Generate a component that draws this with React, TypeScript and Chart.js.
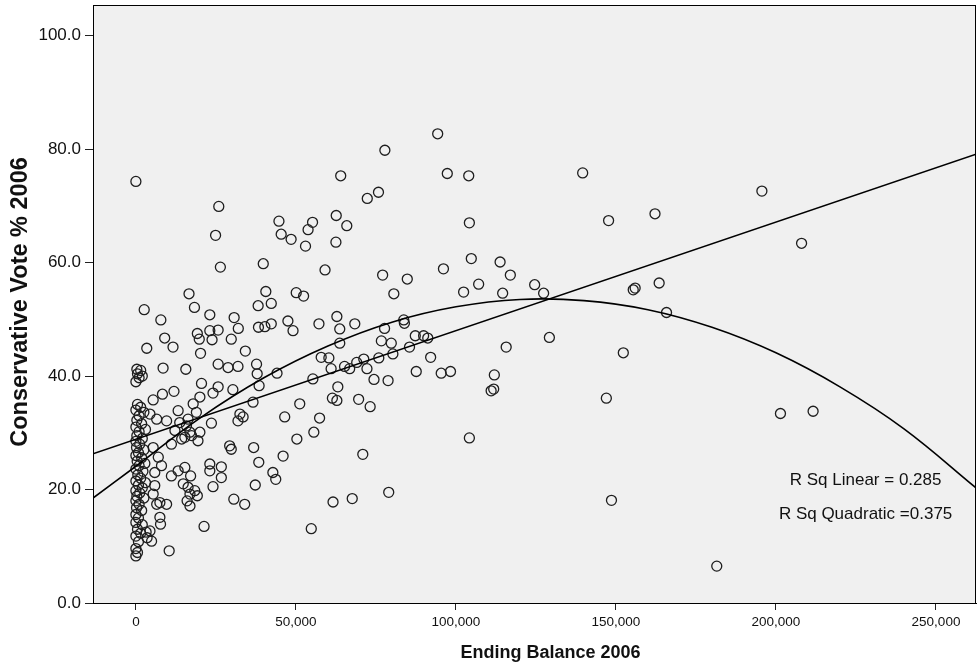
import React, { useEffect, useRef } from "react";
import { Chart, registerables } from "chart.js";

Chart.register(...registerables);

// Ending Balance 2006 (x) and Conservative Vote % 2006 (y)
const balance = [
  0, 94300, 77800, 97300, 104000, 64000, 75800, 72300, 139600, 195600,
  147700, 162200, 208000, 25900, 24900, 26400, 104200, 44700, 55200, 53800,
  62600, 65900, 45400, 48500, 53000, 62500, 39800, 59100, 77100, 84800,
  96100, 104800, 113800, 117000, 107100, 102400, 114600, 124600, 127400, 80600,
  40600, 50100, 52400, 38200, 42300, 156000, 155400, 163500, 165800, 16600,
  18300, 2600, 7800, 23100, 30700, 32000, 19200, 23100, 25700, 9000,
  19800, 23800, 29800, 11600, 3400, 20200, 34200, 38300, 40300, 42300,
  47500, 49100, 57200, 62800, 63700, 68400, 77700, 83700, 83900, 87300,
  89900, 91200, 76700, 79800, 80300, 63700, 85500, 37700, 37900, 44100,
  38500, 57900, 60300, 61000, 55300, 65200, 66800, 69000, 71200, 72200,
  75900, 74400, 78800, 87600, 36600, 63100, 61400, 62800, 69600, 73200,
  51200, 46500, 57400, 55600, 50300, 36800, 38400, 46000, 70900, 42800,
  43700, 37300, 61600, 67600, 79000, 54800, 92100, 95400, 98300, 115700,
  129200, 112000, 111000, 111800, 104200, 152300, 147000, 201400, 211600, 148600,
  181500,
  8500, 15600, 20500, 5400, 8300, 11900, 4400, 6500, 9600, 13200,
  13700, 16300, 17900, 18900, 12200, 14300, 11100, 17400, 5400, 7000,
  8000, 5900, 11100, 13200, 15300, 17100, 14800, 16300, 16900, 18400,
  16000, 16900, 5900, 5400, 6500, 7500, 9600, 7500, 7700, 4400,
  4900, 10400, 25700, 28800, 31900, 25700, 24100, 30300, 20000, 23600,
  32500, 33500, 31900, 15800, 16900, 15300, 20000, 19400, 29300, 29800,
  23100, 26700, 23100, 26700, 24100, 19200, 30600, 34000, 21300,
  300, 1500, 500, 1000, 0, 2000, 500, 1500, 0, 2500,
  1000, 300, 1800, 0, 3000, 1000, 300, 2000, 0, 1200,
  200, 2500, 800, 0, 1800, 400, 2800, 1000, 0, 2200,
  600, 1500, 0, 3000, 800, 2000, 0, 1200, 300, 2500,
  0, 1000, 200, 1800, 0, 800, 0, 2000, 500, 1500,
  0, 800, 0, 500, 0, 3500, 3200,
];

const vote = [
  74.3, 82.7, 79.8, 75.7, 75.3, 75.3, 72.4, 71.3, 75.8, 72.6,
  67.4, 68.6, 63.4, 69.9, 64.8, 59.2, 67, 67.3, 67.1, 65.8,
  68.3, 66.5, 65, 64.1, 62.9, 63.6, 59.8, 58.7, 57.8, 57.1,
  58.9, 60.7, 60.1, 57.8, 56.2, 54.8, 54.6, 56.1, 54.6, 54.5,
  54.9, 54.7, 54.1, 52.4, 52.8, 55.5, 55.2, 56.4, 51.2, 54.5,
  52.1, 51.7, 49.9, 50.8, 50.3, 48.4, 47.5, 48, 48.1, 46.7,
  46.5, 46.4, 46.5, 45.1, 44.9, 44, 44.4, 48.6, 48.7, 49.2,
  49.7, 48, 49.2, 50.5, 48.3, 49.2, 48.4, 49.9, 49.3, 47.1,
  47.1, 46.7, 46.2, 45.8, 43.9, 45.8, 45.1, 42.1, 40.4, 40.5,
  38.3, 43.3, 43.2, 41.3, 39.5, 41.7, 41.3, 42.4, 43, 41.3,
  43.2, 39.4, 39.2, 40.8, 35.4, 38.1, 36.1, 35.7, 35.9, 34.6,
  35.1, 32.8, 32.6, 30.1, 28.9, 27.4, 24.8, 25.9, 26.2, 23,
  21.8, 20.8, 17.8, 18.4, 19.5, 13.1, 43.3, 40.5, 40.8, 45.1,
  46.8, 40.2, 37.4, 37.7, 29.1, 44.1, 36.1, 33.4, 33.8, 18.1,
  6.5,
  41.4, 41.2, 38.7, 35.8, 36.8, 37.3, 33.3, 32.4, 32.1, 33.9,
  31.8, 32.4, 35.1, 33.6, 30.4, 28.9, 28, 29.5, 27.4, 25.7,
  24.2, 23, 22.4, 23.3, 23.9, 22.4, 21, 20.4, 19.2, 19.8,
  18, 17.1, 20.7, 19.2, 17.4, 17.7, 17.4, 15.1, 13.9, 12.7,
  10.9, 9.2, 42.1, 41.5, 41.7, 38.1, 37, 37.6, 36.3, 31.7,
  33.3, 32.8, 32.1, 31.2, 30.1, 29.2, 30.1, 28.6, 27.7, 27.1,
  24.5, 24, 23.3, 22.1, 20.5, 18.9, 18.3, 17.4, 13.5,
  41.2, 41, 40.4, 39.7, 39, 40, 35, 34.5, 34, 33.6,
  33, 32.2, 31.6, 31, 30.6, 30.2, 29.5, 29, 28.5, 28,
  27.4, 27, 26.5, 26, 25.6, 25, 24.6, 24.2, 23.6, 23.2,
  22.6, 22, 21.5, 21.2, 20.8, 20.3, 19.8, 19.4, 18.8, 18.5,
  18, 17.4, 16.8, 16.3, 15.6, 15, 14.2, 13.8, 13, 12.3,
  11.8, 10.8, 9.6, 8.9, 8.3, 11.5, 12.5,
];

// Fit lines
const linearFitX = [-13400, 262500];
const linearFitY = [26.3, 79.1];
const quadFitX = [-13400, 0, 20000, 40000, 60000, 80000, 100000, 120000, 140000, 160000, 180000, 200000, 220000, 240000, 262500];
const quadFitY = [18.5, 24.1, 32.6, 39.7, 45.3, 49.5, 52.2, 53.5, 53.3, 51.7, 48.6, 44.1, 38.1, 30.7, 20.3];

const xTickValues = [0, 50000, 100000, 150000, 200000, 250000];
const yTickValues = [0, 20, 40, 60, 80, 100];
const xTitle = "Ending Balance 2006";
const yTitle = "Conservative Vote % 2006";
const rSqLabels = ["R Sq Linear = 0.285", "R Sq Quadratic =0.375"];

const FONT = "'Liberation Sans', Arial, sans-serif";

export default function App() {
  const canvasRef = useRef<HTMLCanvasElement | null>(null);

  useEffect(() => {
    document.body.style.margin = "0";
    const canvas = canvasRef.current;
    if (!canvas) return;

    const framePlugin = {
      id: "frame",
      beforeDraw(chart: any) {
        const { ctx, chartArea } = chart;
        ctx.save();
        ctx.fillStyle = "#ffffff";
        ctx.fillRect(0, 0, chart.width, chart.height);
        ctx.fillStyle = "#f0f0f0";
        ctx.fillRect(chartArea.left, chartArea.top, chartArea.right - chartArea.left, chartArea.bottom - chartArea.top);
        ctx.restore();
      },
      afterDraw(chart: any) {
        const { ctx, chartArea } = chart;
        ctx.save();
        ctx.strokeStyle = "#000";
        ctx.lineWidth = 1;
        ctx.strokeRect(
          Math.round(chartArea.left) + 0.5,
          Math.round(chartArea.top) + 0.5,
          Math.round(chartArea.right - chartArea.left) - 1,
          Math.round(chartArea.bottom - chartArea.top)
        );
        const xs = chart.scales.x;
        const ys = chart.scales.y;
        ctx.fillStyle = "#111";
        ctx.font = `17px ${FONT}`;
        ctx.textAlign = "center";
        ctx.textBaseline = "middle";
        const cx = xs.getPixelForValue(228000);
        ctx.fillText(rSqLabels[0], cx, ys.getPixelForValue(21.7));
        ctx.fillText(rSqLabels[1], cx, ys.getPixelForValue(15.7));

        // axis titles
        ctx.font = `bold 18px ${FONT}`;
        ctx.fillText(xTitle, (chartArea.left + chartArea.right) / 2 + 16, 653);
        ctx.save();
        ctx.translate(21, (chartArea.top + chartArea.bottom) / 2 - 2);
        ctx.rotate(-Math.PI / 2);
        ctx.font = `bold 23.5px ${FONT}`;
        ctx.fillText(yTitle, 0, 0);
        ctx.restore();
        ctx.restore();
      },
    };

    const chart = new Chart(canvas, {
      type: "scatter",
      data: {
        datasets: [
          {
            type: "line",
            label: "Quadratic",
            data: quadFitX.map((x, i) => ({ x, y: quadFitY[i] })),
            borderColor: "#000",
            borderWidth: 1.6,
            pointRadius: 0,
            tension: 0.4,
            fill: false,
          } as any,
          {
            type: "line",
            label: "Linear",
            data: linearFitX.map((x, i) => ({ x, y: linearFitY[i] })),
            borderColor: "#000",
            borderWidth: 1.6,
            pointRadius: 0,
            fill: false,
          } as any,
          {
            label: "Observed",
            data: balance.map((x, i) => ({ x, y: vote[i] })),
            pointRadius: 5,
            pointBorderWidth: 1.3,
            borderColor: "#1e1e1e",
            backgroundColor: "rgba(0,0,0,0)",
            pointHoverRadius: 5,
          },
        ],
      },
      options: {
        animation: false,
        responsive: false,
        events: [],
        layout: { autoPadding: false, padding: { top: 5, right: 1, bottom: 0, left: 0 } },
        plugins: { legend: { display: false }, tooltip: { enabled: false } },
        scales: {
          x: {
            type: "linear",
            min: -13400,
            max: 262500,
            afterBuildTicks: (s: any) => {
              s.ticks = xTickValues.map((v) => ({ value: v }));
            },
            afterFit: (s: any) => {
              s.height = 67;
              s.paddingLeft = 0;
              s.paddingRight = 0;
              s.paddingTop = 0;
              s.paddingBottom = 0;
            },
            ticks: {
              callback: (v: any) => Number(v).toLocaleString("en-US"),
              font: { family: FONT, size: 13.5 },
              color: "#111",
              padding: 4,
              maxRotation: 0,
              autoSkip: false,
            },
            grid: { drawOnChartArea: false, drawTicks: true, tickLength: 7, color: "#222" },
            border: { display: true, color: "#000" },
            title: { display: false },
          },
          y: {
            type: "linear",
            min: 0,
            max: 105.4,
            afterBuildTicks: (s: any) => {
              s.ticks = yTickValues.map((v) => ({ value: v }));
            },
            afterFit: (s: any) => {
              s.width = 93;
              s.paddingLeft = 0;
              s.paddingRight = 0;
              s.paddingTop = 0;
              s.paddingBottom = 0;
            },
            ticks: {
              callback: (v: any) => Number(v).toFixed(1),
              font: { family: FONT, size: 17 },
              color: "#111",
              padding: 4,
              autoSkip: false,
            },
            grid: { drawOnChartArea: false, drawTicks: true, tickLength: 8, color: "#222" },
            border: { display: true, color: "#000" },
            title: { display: false },
          },
        },
      },
      plugins: [framePlugin],
    } as any);

    return () => chart.destroy();
  }, []);

  return (
    <div style={{ width: 977, height: 670 }}>
      <canvas ref={canvasRef} width={977} height={670} />
    </div>
  );
}
